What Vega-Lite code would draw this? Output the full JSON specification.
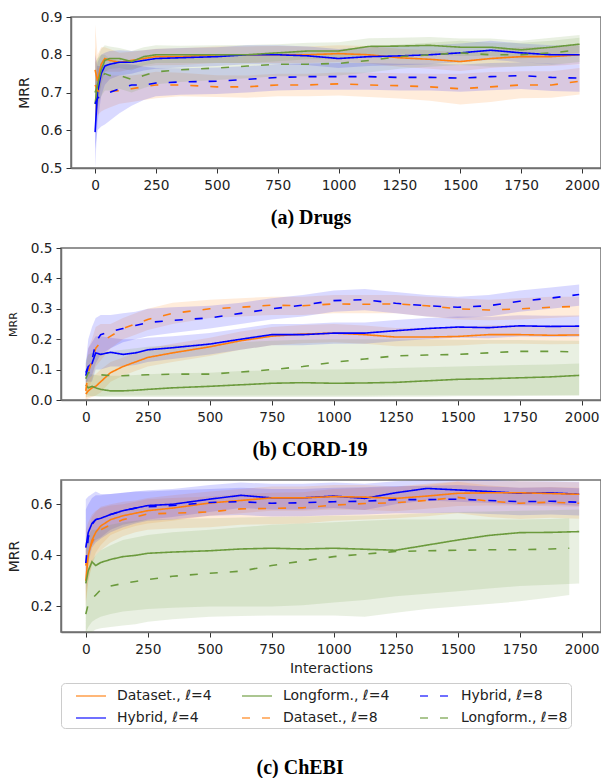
{
  "$schema": "https://vega.github.io/schema/vega-lite/v6.json",
  "background": "white",
  "padding": {"left": 6, "top": 9, "right": 0, "bottom": 0},
  "spacing": 11,
  "title": {"text": "(c) ChEBI", "orient": "bottom", "offset": 29, "dx": -4},
  "config": {
    "font": "DejaVu Sans",
    "view": {"stroke": "#707070", "strokeWidth": 1.5},
    "axis": {"grid": false, "domainColor": "#707070", "domainWidth": 1.5, "tickColor": "#333", "tickSize": 5, "tickWidth": 1, "labelFont": "DejaVu Sans", "labelFontSize": 13.7, "labelColor": "#222", "titleFont": "DejaVu Sans", "titleFontSize": 14, "titleFontWeight": "normal", "titleColor": "#222"},
    "axisY": {"labelPadding": 4, "titlePadding": 9},
    "axisX": {"labelPadding": 5, "titlePadding": 6, "format": "d"},
    "title": {"font": "Liberation Serif", "fontSize": 20, "fontWeight": "bold", "color": "#000", "anchor": "middle"},
    "legend": {"labelFont": "DejaVu Sans", "labelFontSize": 14, "labelColor": "#222", "symbolType": "M-1,0H2.333", "symbolSize": 324, "symbolStrokeWidth": 1.6, "symbolOpacity": 0.75, "symbolOffset": 11, "strokeColor": "#cccccc", "cornerRadius": 4, "padding": 3, "rowPadding": 5, "columnPadding": 18, "labelOffset": 22}
  },
  "resolve": {
    "scale": {"color": "shared", "fill": "shared", "strokeDash": "shared"},
    "legend": {"color": "shared", "strokeDash": "shared"}
  },
  "datasets": {
    "a": [
      {"s":"D4","x":0,"m":0.76,"l":0.64,"h":0.88},{"s":"D4","x":10,"m":0.73,"l":0.66,"h":0.80},{"s":"D4","x":25,"m":0.775,"l":0.73,"h":0.82},{"s":"D4","x":40,"m":0.79,"l":0.755,"h":0.82},{"s":"D4","x":60,"m":0.785,"l":0.755,"h":0.815},{"s":"D4","x":100,"m":0.78,"l":0.755,"h":0.805},{"s":"D4","x":150,"m":0.785,"l":0.762,"h":0.808},{"s":"D4","x":200,"m":0.79,"l":0.768,"h":0.812},{"s":"D4","x":250,"m":0.795,"l":0.772,"h":0.816},{"s":"D4","x":350,"m":0.795,"l":0.773,"h":0.817},{"s":"D4","x":500,"m":0.80,"l":0.778,"h":0.822},{"s":"D4","x":625,"m":0.80,"l":0.778,"h":0.822},{"s":"D4","x":750,"m":0.80,"l":0.778,"h":0.823},{"s":"D4","x":875,"m":0.80,"l":0.778,"h":0.822},{"s":"D4","x":1000,"m":0.803,"l":0.781,"h":0.825},{"s":"D4","x":1125,"m":0.80,"l":0.777,"h":0.823},{"s":"D4","x":1250,"m":0.792,"l":0.768,"h":0.816},{"s":"D4","x":1375,"m":0.788,"l":0.763,"h":0.812},{"s":"D4","x":1500,"m":0.782,"l":0.757,"h":0.806},{"s":"D4","x":1625,"m":0.79,"l":0.765,"h":0.814},{"s":"D4","x":1750,"m":0.795,"l":0.77,"h":0.82},{"s":"D4","x":1875,"m":0.795,"l":0.77,"h":0.82},{"s":"D4","x":1990,"m":0.80,"l":0.775,"h":0.825},
      {"s":"H4","x":0,"m":0.595,"l":0.50,"h":0.69},{"s":"H4","x":10,"m":0.70,"l":0.62,"h":0.78},{"s":"H4","x":25,"m":0.75,"l":0.69,"h":0.80},{"s":"H4","x":40,"m":0.77,"l":0.72,"h":0.805},{"s":"H4","x":60,"m":0.775,"l":0.735,"h":0.81},{"s":"H4","x":100,"m":0.78,"l":0.745,"h":0.812},{"s":"H4","x":150,"m":0.78,"l":0.75,"h":0.81},{"s":"H4","x":200,"m":0.785,"l":0.758,"h":0.812},{"s":"H4","x":250,"m":0.79,"l":0.763,"h":0.815},{"s":"H4","x":350,"m":0.792,"l":0.766,"h":0.818},{"s":"H4","x":500,"m":0.795,"l":0.77,"h":0.82},{"s":"H4","x":625,"m":0.80,"l":0.775,"h":0.825},{"s":"H4","x":750,"m":0.80,"l":0.775,"h":0.825},{"s":"H4","x":875,"m":0.797,"l":0.772,"h":0.822},{"s":"H4","x":1000,"m":0.79,"l":0.765,"h":0.815},{"s":"H4","x":1125,"m":0.795,"l":0.77,"h":0.82},{"s":"H4","x":1250,"m":0.797,"l":0.772,"h":0.822},{"s":"H4","x":1375,"m":0.80,"l":0.775,"h":0.825},{"s":"H4","x":1500,"m":0.805,"l":0.78,"h":0.83},{"s":"H4","x":1625,"m":0.812,"l":0.787,"h":0.837},{"s":"H4","x":1750,"m":0.805,"l":0.78,"h":0.83},{"s":"H4","x":1875,"m":0.80,"l":0.775,"h":0.825},{"s":"H4","x":1990,"m":0.80,"l":0.775,"h":0.825},
      {"s":"L4","x":0,"m":0.67,"l":0.60,"h":0.74},{"s":"L4","x":10,"m":0.72,"l":0.66,"h":0.79},{"s":"L4","x":25,"m":0.76,"l":0.72,"h":0.815},{"s":"L4","x":40,"m":0.785,"l":0.755,"h":0.825},{"s":"L4","x":60,"m":0.79,"l":0.762,"h":0.822},{"s":"L4","x":100,"m":0.79,"l":0.765,"h":0.818},{"s":"L4","x":150,"m":0.782,"l":0.758,"h":0.81},{"s":"L4","x":200,"m":0.795,"l":0.772,"h":0.82},{"s":"L4","x":250,"m":0.80,"l":0.778,"h":0.825},{"s":"L4","x":350,"m":0.80,"l":0.778,"h":0.824},{"s":"L4","x":500,"m":0.80,"l":0.778,"h":0.825},{"s":"L4","x":625,"m":0.80,"l":0.778,"h":0.826},{"s":"L4","x":750,"m":0.805,"l":0.783,"h":0.828},{"s":"L4","x":875,"m":0.81,"l":0.788,"h":0.832},{"s":"L4","x":1000,"m":0.81,"l":0.788,"h":0.833},{"s":"L4","x":1125,"m":0.822,"l":0.80,"h":0.844},{"s":"L4","x":1250,"m":0.823,"l":0.80,"h":0.845},{"s":"L4","x":1375,"m":0.825,"l":0.802,"h":0.847},{"s":"L4","x":1500,"m":0.82,"l":0.797,"h":0.843},{"s":"L4","x":1625,"m":0.82,"l":0.797,"h":0.843},{"s":"L4","x":1750,"m":0.813,"l":0.79,"h":0.837},{"s":"L4","x":1875,"m":0.82,"l":0.797,"h":0.845},{"s":"L4","x":1990,"m":0.828,"l":0.805,"h":0.852},
      {"s":"D8","x":0,"m":0.72,"l":0.62,"h":0.82},{"s":"D8","x":10,"m":0.705,"l":0.64,"h":0.77},{"s":"D8","x":25,"m":0.70,"l":0.65,"h":0.75},{"s":"D8","x":40,"m":0.70,"l":0.655,"h":0.745},{"s":"D8","x":60,"m":0.703,"l":0.66,"h":0.745},{"s":"D8","x":100,"m":0.705,"l":0.67,"h":0.745},{"s":"D8","x":150,"m":0.71,"l":0.675,"h":0.745},{"s":"D8","x":200,"m":0.715,"l":0.68,"h":0.75},{"s":"D8","x":250,"m":0.72,"l":0.685,"h":0.755},{"s":"D8","x":350,"m":0.72,"l":0.69,"h":0.752},{"s":"D8","x":500,"m":0.715,"l":0.688,"h":0.746},{"s":"D8","x":625,"m":0.715,"l":0.686,"h":0.745},{"s":"D8","x":750,"m":0.72,"l":0.69,"h":0.75},{"s":"D8","x":875,"m":0.72,"l":0.69,"h":0.75},{"s":"D8","x":1000,"m":0.723,"l":0.692,"h":0.753},{"s":"D8","x":1125,"m":0.72,"l":0.688,"h":0.752},{"s":"D8","x":1250,"m":0.718,"l":0.684,"h":0.751},{"s":"D8","x":1375,"m":0.715,"l":0.678,"h":0.75},{"s":"D8","x":1500,"m":0.71,"l":0.668,"h":0.75},{"s":"D8","x":1625,"m":0.715,"l":0.675,"h":0.754},{"s":"D8","x":1750,"m":0.72,"l":0.685,"h":0.756},{"s":"D8","x":1875,"m":0.72,"l":0.686,"h":0.756},{"s":"D8","x":1990,"m":0.73,"l":0.695,"h":0.765},
      {"s":"H8","x":0,"m":0.67,"l":0.55,"h":0.80},{"s":"H8","x":10,"m":0.685,"l":0.60,"h":0.77},{"s":"H8","x":25,"m":0.69,"l":0.61,"h":0.77},{"s":"H8","x":40,"m":0.695,"l":0.615,"h":0.775},{"s":"H8","x":60,"m":0.70,"l":0.625,"h":0.775},{"s":"H8","x":100,"m":0.71,"l":0.645,"h":0.775},{"s":"H8","x":150,"m":0.72,"l":0.665,"h":0.775},{"s":"H8","x":200,"m":0.72,"l":0.68,"h":0.768},{"s":"H8","x":250,"m":0.725,"l":0.69,"h":0.765},{"s":"H8","x":350,"m":0.728,"l":0.694,"h":0.764},{"s":"H8","x":500,"m":0.73,"l":0.696,"h":0.766},{"s":"H8","x":625,"m":0.735,"l":0.70,"h":0.77},{"s":"H8","x":750,"m":0.74,"l":0.705,"h":0.775},{"s":"H8","x":875,"m":0.742,"l":0.707,"h":0.777},{"s":"H8","x":1000,"m":0.742,"l":0.707,"h":0.778},{"s":"H8","x":1125,"m":0.742,"l":0.707,"h":0.778},{"s":"H8","x":1250,"m":0.74,"l":0.705,"h":0.776},{"s":"H8","x":1375,"m":0.74,"l":0.705,"h":0.776},{"s":"H8","x":1500,"m":0.738,"l":0.702,"h":0.774},{"s":"H8","x":1625,"m":0.742,"l":0.706,"h":0.778},{"s":"H8","x":1750,"m":0.745,"l":0.709,"h":0.78},{"s":"H8","x":1875,"m":0.74,"l":0.704,"h":0.776},{"s":"H8","x":1990,"m":0.738,"l":0.702,"h":0.774},
      {"s":"L8","x":0,"m":0.70,"l":0.62,"h":0.78},{"s":"L8","x":10,"m":0.72,"l":0.66,"h":0.79},{"s":"L8","x":25,"m":0.74,"l":0.69,"h":0.80},{"s":"L8","x":40,"m":0.75,"l":0.705,"h":0.80},{"s":"L8","x":60,"m":0.745,"l":0.705,"h":0.79},{"s":"L8","x":100,"m":0.745,"l":0.71,"h":0.785},{"s":"L8","x":150,"m":0.735,"l":0.70,"h":0.772},{"s":"L8","x":200,"m":0.745,"l":0.712,"h":0.78},{"s":"L8","x":250,"m":0.755,"l":0.722,"h":0.788},{"s":"L8","x":350,"m":0.76,"l":0.728,"h":0.792},{"s":"L8","x":500,"m":0.765,"l":0.733,"h":0.797},{"s":"L8","x":625,"m":0.77,"l":0.738,"h":0.802},{"s":"L8","x":750,"m":0.775,"l":0.743,"h":0.807},{"s":"L8","x":875,"m":0.775,"l":0.743,"h":0.807},{"s":"L8","x":1000,"m":0.777,"l":0.745,"h":0.81},{"s":"L8","x":1125,"m":0.785,"l":0.753,"h":0.817},{"s":"L8","x":1250,"m":0.795,"l":0.763,"h":0.827},{"s":"L8","x":1375,"m":0.80,"l":0.768,"h":0.832},{"s":"L8","x":1500,"m":0.805,"l":0.773,"h":0.837},{"s":"L8","x":1625,"m":0.80,"l":0.768,"h":0.832},{"s":"L8","x":1750,"m":0.80,"l":0.768,"h":0.832},{"s":"L8","x":1875,"m":0.805,"l":0.773,"h":0.837},{"s":"L8","x":1990,"m":0.813,"l":0.781,"h":0.845}
    ],
    "b": [
      {"s":"D4","x":0,"m":0.02,"l":0.0,"h":0.06},{"s":"D4","x":10,"m":0.03,"l":0.005,"h":0.07},{"s":"D4","x":25,"m":0.04,"l":0.01,"h":0.08},{"s":"D4","x":40,"m":0.045,"l":0.015,"h":0.085},{"s":"D4","x":60,"m":0.06,"l":0.025,"h":0.10},{"s":"D4","x":100,"m":0.09,"l":0.06,"h":0.125},{"s":"D4","x":150,"m":0.11,"l":0.08,"h":0.14},{"s":"D4","x":200,"m":0.125,"l":0.095,"h":0.155},{"s":"D4","x":250,"m":0.14,"l":0.11,"h":0.17},{"s":"D4","x":350,"m":0.155,"l":0.125,"h":0.185},{"s":"D4","x":500,"m":0.175,"l":0.145,"h":0.205},{"s":"D4","x":625,"m":0.195,"l":0.165,"h":0.225},{"s":"D4","x":750,"m":0.21,"l":0.18,"h":0.24},{"s":"D4","x":875,"m":0.217,"l":0.187,"h":0.247},{"s":"D4","x":1000,"m":0.22,"l":0.19,"h":0.25},{"s":"D4","x":1125,"m":0.215,"l":0.185,"h":0.245},{"s":"D4","x":1250,"m":0.207,"l":0.177,"h":0.237},{"s":"D4","x":1375,"m":0.207,"l":0.177,"h":0.238},{"s":"D4","x":1500,"m":0.209,"l":0.179,"h":0.24},{"s":"D4","x":1625,"m":0.215,"l":0.185,"h":0.246},{"s":"D4","x":1750,"m":0.215,"l":0.185,"h":0.246},{"s":"D4","x":1875,"m":0.213,"l":0.183,"h":0.244},{"s":"D4","x":1990,"m":0.214,"l":0.184,"h":0.245},
      {"s":"H4","x":0,"m":0.09,"l":0.06,"h":0.12},{"s":"H4","x":10,"m":0.11,"l":0.06,"h":0.17},{"s":"H4","x":25,"m":0.12,"l":0.06,"h":0.19},{"s":"H4","x":40,"m":0.155,"l":0.10,"h":0.21},{"s":"H4","x":60,"m":0.15,"l":0.10,"h":0.21},{"s":"H4","x":100,"m":0.157,"l":0.11,"h":0.205},{"s":"H4","x":150,"m":0.15,"l":0.11,"h":0.20},{"s":"H4","x":200,"m":0.155,"l":0.115,"h":0.20},{"s":"H4","x":250,"m":0.165,"l":0.125,"h":0.205},{"s":"H4","x":350,"m":0.172,"l":0.135,"h":0.21},{"s":"H4","x":500,"m":0.184,"l":0.15,"h":0.22},{"s":"H4","x":625,"m":0.20,"l":0.165,"h":0.235},{"s":"H4","x":750,"m":0.215,"l":0.18,"h":0.25},{"s":"H4","x":875,"m":0.215,"l":0.18,"h":0.25},{"s":"H4","x":1000,"m":0.22,"l":0.185,"h":0.255},{"s":"H4","x":1125,"m":0.22,"l":0.185,"h":0.255},{"s":"H4","x":1250,"m":0.228,"l":0.193,"h":0.263},{"s":"H4","x":1375,"m":0.235,"l":0.20,"h":0.27},{"s":"H4","x":1500,"m":0.24,"l":0.205,"h":0.275},{"s":"H4","x":1625,"m":0.238,"l":0.203,"h":0.273},{"s":"H4","x":1750,"m":0.244,"l":0.209,"h":0.279},{"s":"H4","x":1875,"m":0.242,"l":0.207,"h":0.277},{"s":"H4","x":1990,"m":0.243,"l":0.208,"h":0.278},
      {"s":"L4","x":0,"m":0.05,"l":0.02,"h":0.09},{"s":"L4","x":10,"m":0.04,"l":0.015,"h":0.085},{"s":"L4","x":25,"m":0.045,"l":0.012,"h":0.085},{"s":"L4","x":40,"m":0.04,"l":0.012,"h":0.082},{"s":"L4","x":60,"m":0.035,"l":0.01,"h":0.08},{"s":"L4","x":100,"m":0.03,"l":0.01,"h":0.08},{"s":"L4","x":150,"m":0.03,"l":0.01,"h":0.08},{"s":"L4","x":200,"m":0.032,"l":0.01,"h":0.082},{"s":"L4","x":250,"m":0.035,"l":0.01,"h":0.085},{"s":"L4","x":350,"m":0.04,"l":0.01,"h":0.088},{"s":"L4","x":500,"m":0.045,"l":0.01,"h":0.09},{"s":"L4","x":625,"m":0.05,"l":0.01,"h":0.095},{"s":"L4","x":750,"m":0.055,"l":0.01,"h":0.098},{"s":"L4","x":875,"m":0.057,"l":0.01,"h":0.10},{"s":"L4","x":1000,"m":0.055,"l":0.01,"h":0.10},{"s":"L4","x":1125,"m":0.056,"l":0.01,"h":0.102},{"s":"L4","x":1250,"m":0.058,"l":0.011,"h":0.105},{"s":"L4","x":1375,"m":0.063,"l":0.011,"h":0.108},{"s":"L4","x":1500,"m":0.068,"l":0.012,"h":0.11},{"s":"L4","x":1625,"m":0.07,"l":0.012,"h":0.113},{"s":"L4","x":1750,"m":0.073,"l":0.013,"h":0.115},{"s":"L4","x":1875,"m":0.076,"l":0.014,"h":0.117},{"s":"L4","x":1990,"m":0.081,"l":0.015,"h":0.12},
      {"s":"D8","x":0,"m":0.03,"l":0.0,"h":0.10},{"s":"D8","x":10,"m":0.09,"l":0.03,"h":0.17},{"s":"D8","x":25,"m":0.13,"l":0.07,"h":0.20},{"s":"D8","x":40,"m":0.17,"l":0.11,"h":0.24},{"s":"D8","x":60,"m":0.19,"l":0.13,"h":0.25},{"s":"D8","x":100,"m":0.21,"l":0.17,"h":0.25},{"s":"D8","x":150,"m":0.235,"l":0.20,"h":0.27},{"s":"D8","x":200,"m":0.25,"l":0.215,"h":0.285},{"s":"D8","x":250,"m":0.265,"l":0.23,"h":0.30},{"s":"D8","x":350,"m":0.285,"l":0.25,"h":0.32},{"s":"D8","x":500,"m":0.30,"l":0.27,"h":0.33},{"s":"D8","x":625,"m":0.305,"l":0.275,"h":0.335},{"s":"D8","x":750,"m":0.312,"l":0.28,"h":0.34},{"s":"D8","x":875,"m":0.31,"l":0.28,"h":0.34},{"s":"D8","x":1000,"m":0.316,"l":0.285,"h":0.345},{"s":"D8","x":1125,"m":0.315,"l":0.285,"h":0.345},{"s":"D8","x":1250,"m":0.316,"l":0.285,"h":0.345},{"s":"D8","x":1375,"m":0.31,"l":0.275,"h":0.34},{"s":"D8","x":1500,"m":0.30,"l":0.265,"h":0.335},{"s":"D8","x":1625,"m":0.296,"l":0.262,"h":0.33},{"s":"D8","x":1750,"m":0.30,"l":0.265,"h":0.335},{"s":"D8","x":1875,"m":0.305,"l":0.27,"h":0.34},{"s":"D8","x":1990,"m":0.308,"l":0.275,"h":0.34},
      {"s":"H8","x":0,"m":0.08,"l":0.05,"h":0.12},{"s":"H8","x":10,"m":0.11,"l":0.07,"h":0.20},{"s":"H8","x":25,"m":0.13,"l":0.08,"h":0.24},{"s":"H8","x":40,"m":0.19,"l":0.12,"h":0.27},{"s":"H8","x":60,"m":0.215,"l":0.15,"h":0.28},{"s":"H8","x":100,"m":0.225,"l":0.17,"h":0.28},{"s":"H8","x":150,"m":0.235,"l":0.19,"h":0.285},{"s":"H8","x":200,"m":0.245,"l":0.20,"h":0.29},{"s":"H8","x":250,"m":0.255,"l":0.21,"h":0.30},{"s":"H8","x":350,"m":0.262,"l":0.22,"h":0.305},{"s":"H8","x":500,"m":0.27,"l":0.235,"h":0.31},{"s":"H8","x":625,"m":0.285,"l":0.25,"h":0.32},{"s":"H8","x":750,"m":0.30,"l":0.265,"h":0.335},{"s":"H8","x":875,"m":0.312,"l":0.275,"h":0.345},{"s":"H8","x":1000,"m":0.327,"l":0.29,"h":0.36},{"s":"H8","x":1125,"m":0.33,"l":0.295,"h":0.365},{"s":"H8","x":1250,"m":0.318,"l":0.285,"h":0.355},{"s":"H8","x":1375,"m":0.31,"l":0.275,"h":0.345},{"s":"H8","x":1500,"m":0.305,"l":0.27,"h":0.34},{"s":"H8","x":1625,"m":0.31,"l":0.275,"h":0.345},{"s":"H8","x":1750,"m":0.325,"l":0.29,"h":0.36},{"s":"H8","x":1875,"m":0.335,"l":0.30,"h":0.37},{"s":"H8","x":1990,"m":0.347,"l":0.31,"h":0.38},
      {"s":"L8","x":0,"m":0.07,"l":0.01,"h":0.13},{"s":"L8","x":10,"m":0.09,"l":0.01,"h":0.15},{"s":"L8","x":25,"m":0.09,"l":0.012,"h":0.155},{"s":"L8","x":40,"m":0.085,"l":0.012,"h":0.155},{"s":"L8","x":60,"m":0.083,"l":0.013,"h":0.155},{"s":"L8","x":100,"m":0.08,"l":0.015,"h":0.16},{"s":"L8","x":150,"m":0.08,"l":0.015,"h":0.165},{"s":"L8","x":200,"m":0.082,"l":0.015,"h":0.17},{"s":"L8","x":250,"m":0.083,"l":0.015,"h":0.175},{"s":"L8","x":350,"m":0.085,"l":0.015,"h":0.18},{"s":"L8","x":500,"m":0.085,"l":0.015,"h":0.185},{"s":"L8","x":625,"m":0.092,"l":0.015,"h":0.19},{"s":"L8","x":750,"m":0.10,"l":0.015,"h":0.195},{"s":"L8","x":875,"m":0.11,"l":0.015,"h":0.198},{"s":"L8","x":1000,"m":0.124,"l":0.015,"h":0.20},{"s":"L8","x":1125,"m":0.135,"l":0.015,"h":0.20},{"s":"L8","x":1250,"m":0.145,"l":0.016,"h":0.20},{"s":"L8","x":1375,"m":0.148,"l":0.016,"h":0.20},{"s":"L8","x":1500,"m":0.15,"l":0.016,"h":0.198},{"s":"L8","x":1625,"m":0.155,"l":0.016,"h":0.197},{"s":"L8","x":1750,"m":0.16,"l":0.016,"h":0.197},{"s":"L8","x":1875,"m":0.16,"l":0.016,"h":0.196},{"s":"L8","x":1990,"m":0.158,"l":0.016,"h":0.195}
    ],
    "c": [
      {"s":"H4","x":0,"m":0.43,"l":0.33,"h":0.62},{"s":"H4","x":10,"m":0.49,"l":0.40,"h":0.63},{"s":"H4","x":25,"m":0.525,"l":0.44,"h":0.64},{"s":"H4","x":40,"m":0.54,"l":0.46,"h":0.65},{"s":"H4","x":60,"m":0.545,"l":0.47,"h":0.64},{"s":"H4","x":100,"m":0.56,"l":0.50,"h":0.64},{"s":"H4","x":150,"m":0.575,"l":0.52,"h":0.645},{"s":"H4","x":200,"m":0.585,"l":0.53,"h":0.65},{"s":"H4","x":250,"m":0.595,"l":0.54,"h":0.655},{"s":"H4","x":350,"m":0.60,"l":0.55,"h":0.66},{"s":"H4","x":500,"m":0.62,"l":0.57,"h":0.675},{"s":"H4","x":625,"m":0.635,"l":0.585,"h":0.685},{"s":"H4","x":750,"m":0.625,"l":0.58,"h":0.68},{"s":"H4","x":875,"m":0.625,"l":0.58,"h":0.68},{"s":"H4","x":1000,"m":0.632,"l":0.585,"h":0.685},{"s":"H4","x":1125,"m":0.623,"l":0.578,"h":0.68},{"s":"H4","x":1250,"m":0.645,"l":0.60,"h":0.69},{"s":"H4","x":1375,"m":0.662,"l":0.615,"h":0.695},{"s":"H4","x":1500,"m":0.656,"l":0.61,"h":0.695},{"s":"H4","x":1625,"m":0.65,"l":0.605,"h":0.695},{"s":"H4","x":1750,"m":0.643,"l":0.598,"h":0.69},{"s":"H4","x":1875,"m":0.645,"l":0.60,"h":0.69},{"s":"H4","x":1990,"m":0.639,"l":0.594,"h":0.688},
      {"s":"D4","x":0,"m":0.30,"l":0.20,"h":0.42},{"s":"D4","x":10,"m":0.40,"l":0.30,"h":0.50},{"s":"D4","x":25,"m":0.46,"l":0.37,"h":0.55},{"s":"D4","x":40,"m":0.49,"l":0.41,"h":0.57},{"s":"D4","x":60,"m":0.515,"l":0.44,"h":0.59},{"s":"D4","x":100,"m":0.54,"l":0.48,"h":0.60},{"s":"D4","x":150,"m":0.555,"l":0.50,"h":0.61},{"s":"D4","x":200,"m":0.565,"l":0.515,"h":0.615},{"s":"D4","x":250,"m":0.575,"l":0.525,"h":0.625},{"s":"D4","x":350,"m":0.585,"l":0.535,"h":0.635},{"s":"D4","x":500,"m":0.605,"l":0.555,"h":0.65},{"s":"D4","x":625,"m":0.615,"l":0.565,"h":0.66},{"s":"D4","x":750,"m":0.625,"l":0.575,"h":0.67},{"s":"D4","x":875,"m":0.625,"l":0.575,"h":0.67},{"s":"D4","x":1000,"m":0.63,"l":0.58,"h":0.675},{"s":"D4","x":1125,"m":0.628,"l":0.578,"h":0.675},{"s":"D4","x":1250,"m":0.623,"l":0.573,"h":0.67},{"s":"D4","x":1375,"m":0.632,"l":0.582,"h":0.68},{"s":"D4","x":1500,"m":0.643,"l":0.593,"h":0.69},{"s":"D4","x":1625,"m":0.645,"l":0.595,"h":0.69},{"s":"D4","x":1750,"m":0.645,"l":0.595,"h":0.69},{"s":"D4","x":1875,"m":0.642,"l":0.592,"h":0.688},{"s":"D4","x":1990,"m":0.639,"l":0.59,"h":0.686},
      {"s":"D8","x":0,"m":0.36,"l":0.22,"h":0.50},{"s":"D8","x":10,"m":0.41,"l":0.30,"h":0.53},{"s":"D8","x":25,"m":0.45,"l":0.36,"h":0.56},{"s":"D8","x":40,"m":0.48,"l":0.40,"h":0.575},{"s":"D8","x":60,"m":0.50,"l":0.42,"h":0.585},{"s":"D8","x":100,"m":0.52,"l":0.45,"h":0.595},{"s":"D8","x":150,"m":0.54,"l":0.475,"h":0.60},{"s":"D8","x":200,"m":0.55,"l":0.49,"h":0.61},{"s":"D8","x":250,"m":0.562,"l":0.50,"h":0.62},{"s":"D8","x":350,"m":0.565,"l":0.505,"h":0.625},{"s":"D8","x":500,"m":0.57,"l":0.51,"h":0.63},{"s":"D8","x":625,"m":0.582,"l":0.52,"h":0.64},{"s":"D8","x":750,"m":0.584,"l":0.522,"h":0.645},{"s":"D8","x":875,"m":0.586,"l":0.525,"h":0.647},{"s":"D8","x":1000,"m":0.597,"l":0.535,"h":0.66},{"s":"D8","x":1125,"m":0.603,"l":0.54,"h":0.665},{"s":"D8","x":1250,"m":0.606,"l":0.545,"h":0.668},{"s":"D8","x":1375,"m":0.615,"l":0.553,"h":0.675},{"s":"D8","x":1500,"m":0.627,"l":0.565,"h":0.688},{"s":"D8","x":1625,"m":0.612,"l":0.55,"h":0.673},{"s":"D8","x":1750,"m":0.604,"l":0.542,"h":0.665},{"s":"D8","x":1875,"m":0.608,"l":0.547,"h":0.668},{"s":"D8","x":1990,"m":0.604,"l":0.543,"h":0.665},
      {"s":"H8","x":0,"m":0.37,"l":0.26,"h":0.58},{"s":"H8","x":10,"m":0.47,"l":0.37,"h":0.60},{"s":"H8","x":25,"m":0.52,"l":0.43,"h":0.625},{"s":"H8","x":40,"m":0.54,"l":0.45,"h":0.635},{"s":"H8","x":60,"m":0.545,"l":0.465,"h":0.635},{"s":"H8","x":100,"m":0.56,"l":0.49,"h":0.64},{"s":"H8","x":150,"m":0.575,"l":0.51,"h":0.645},{"s":"H8","x":200,"m":0.585,"l":0.525,"h":0.65},{"s":"H8","x":250,"m":0.59,"l":0.535,"h":0.65},{"s":"H8","x":350,"m":0.595,"l":0.54,"h":0.655},{"s":"H8","x":500,"m":0.607,"l":0.555,"h":0.66},{"s":"H8","x":625,"m":0.61,"l":0.558,"h":0.665},{"s":"H8","x":750,"m":0.604,"l":0.552,"h":0.66},{"s":"H8","x":875,"m":0.606,"l":0.553,"h":0.66},{"s":"H8","x":1000,"m":0.61,"l":0.557,"h":0.665},{"s":"H8","x":1125,"m":0.612,"l":0.56,"h":0.667},{"s":"H8","x":1250,"m":0.618,"l":0.565,"h":0.672},{"s":"H8","x":1375,"m":0.618,"l":0.565,"h":0.672},{"s":"H8","x":1500,"m":0.62,"l":0.567,"h":0.675},{"s":"H8","x":1625,"m":0.615,"l":0.562,"h":0.67},{"s":"H8","x":1750,"m":0.61,"l":0.557,"h":0.665},{"s":"H8","x":1875,"m":0.612,"l":0.56,"h":0.667},{"s":"H8","x":1990,"m":0.608,"l":0.556,"h":0.663},
      {"s":"L4","x":0,"m":0.29,"l":0.10,"h":0.45},{"s":"L4","x":10,"m":0.34,"l":0.12,"h":0.48},{"s":"L4","x":25,"m":0.375,"l":0.14,"h":0.50},{"s":"L4","x":40,"m":0.36,"l":0.15,"h":0.50},{"s":"L4","x":60,"m":0.372,"l":0.16,"h":0.51},{"s":"L4","x":100,"m":0.384,"l":0.17,"h":0.52},{"s":"L4","x":150,"m":0.395,"l":0.18,"h":0.53},{"s":"L4","x":200,"m":0.40,"l":0.185,"h":0.535},{"s":"L4","x":250,"m":0.408,"l":0.19,"h":0.54},{"s":"L4","x":350,"m":0.413,"l":0.195,"h":0.542},{"s":"L4","x":500,"m":0.418,"l":0.20,"h":0.545},{"s":"L4","x":625,"m":0.425,"l":0.20,"h":0.548},{"s":"L4","x":750,"m":0.428,"l":0.20,"h":0.55},{"s":"L4","x":875,"m":0.425,"l":0.205,"h":0.552},{"s":"L4","x":1000,"m":0.428,"l":0.215,"h":0.555},{"s":"L4","x":1125,"m":0.424,"l":0.225,"h":0.556},{"s":"L4","x":1250,"m":0.42,"l":0.24,"h":0.56},{"s":"L4","x":1375,"m":0.44,"l":0.25,"h":0.565},{"s":"L4","x":1500,"m":0.46,"l":0.26,"h":0.57},{"s":"L4","x":1625,"m":0.478,"l":0.27,"h":0.572},{"s":"L4","x":1750,"m":0.489,"l":0.28,"h":0.575},{"s":"L4","x":1875,"m":0.49,"l":0.285,"h":0.577},{"s":"L4","x":1990,"m":0.493,"l":0.29,"h":0.58},
      {"s":"L8","x":0,"m":0.17,"l":0.10,"h":0.30},{"s":"L8","x":10,"m":0.21,"l":0.10,"h":0.35},{"s":"L8","x":25,"m":0.23,"l":0.10,"h":0.38},{"s":"L8","x":40,"m":0.245,"l":0.11,"h":0.40},{"s":"L8","x":60,"m":0.265,"l":0.115,"h":0.42},{"s":"L8","x":100,"m":0.28,"l":0.12,"h":0.44},{"s":"L8","x":150,"m":0.29,"l":0.125,"h":0.46},{"s":"L8","x":200,"m":0.298,"l":0.13,"h":0.47},{"s":"L8","x":250,"m":0.305,"l":0.14,"h":0.48},{"s":"L8","x":350,"m":0.318,"l":0.15,"h":0.49},{"s":"L8","x":500,"m":0.33,"l":0.16,"h":0.50},{"s":"L8","x":625,"m":0.338,"l":0.163,"h":0.51},{"s":"L8","x":750,"m":0.36,"l":0.165,"h":0.52},{"s":"L8","x":875,"m":0.378,"l":0.165,"h":0.525},{"s":"L8","x":1000,"m":0.395,"l":0.165,"h":0.53},{"s":"L8","x":1125,"m":0.405,"l":0.16,"h":0.535},{"s":"L8","x":1250,"m":0.415,"l":0.175,"h":0.54},{"s":"L8","x":1375,"m":0.418,"l":0.19,"h":0.54},{"s":"L8","x":1500,"m":0.42,"l":0.20,"h":0.54},{"s":"L8","x":1625,"m":0.422,"l":0.21,"h":0.54},{"s":"L8","x":1750,"m":0.422,"l":0.22,"h":0.54},{"s":"L8","x":1875,"m":0.425,"l":0.235,"h":0.542},{"s":"L8","x":1950,"m":0.428,"l":0.245,"h":0.545}
    ]
  },
  "vconcat": [
    {
      "spacing": 9,
      "bounds": "flush",
      "resolve": {"scale": {"color": "shared", "fill": "shared", "strokeDash": "shared"}, "legend": {"color": "shared", "strokeDash": "shared"}},
      "hconcat": [
        {
          "width": 1, "height": 1,
          "view": {"stroke": null},
          "data": {"values": [{"k": 1}]},
          "mark": {"type": "point", "opacity": 0},
          "encoding": {}
        },
        {
          "width": 530, "height": 151,
          "data": {"name": "a"},
          "title": {"text": "(a) Drugs", "orient": "bottom", "dx": -25, "offset": 16},
          "layer": [
            {"mark": {"type": "area", "fillOpacity": 0.15, "clip": true},
             "encoding": {
               "x": {"field": "x", "type": "quantitative", "scale": {"domain": [-99, 2078], "nice": false, "zero": false}, "axis": {"values": [0,250,500,750,1000,1250,1500,1750,2000], "title": null}},
               "y": {"field": "l", "type": "quantitative", "scale": {"domain": [0.5, 0.9], "nice": false, "zero": false}, "axis": {"values": [0.5,0.6,0.7,0.8,0.9], "format": ".1f", "title": "MRR"}},
               "y2": {"field": "h"},
               "fill": {"field": "s", "type": "nominal", "scale": {"domain": ["L8","D8","H4","H8","L4","D4"], "range": ["#6b9a3c","#ff7f0e","#0000ff","#0000ff","#6b9a3c","#ff7f0e"]}, "legend": null},
               "detail": {"field": "s"}
             }},
            {"mark": {"type": "line", "strokeWidth": 1.6, "clip": true},
             "encoding": {
               "x": {"field": "x", "type": "quantitative"},
               "y": {"field": "m", "type": "quantitative", "axis": {"values": [0.5,0.6,0.7,0.8,0.9], "format": ".1f", "title": "MRR"}},
               "color": {"field": "s", "type": "nominal", "scale": {"domain": ["D4","L4","H8","H4","D8","L8"], "range": ["#ff7f0e","#6b9a3c","#0000ff","#0000ff","#ff7f0e","#6b9a3c"]},
                 "legend": {"title": null, "orient": "bottom", "direction": "horizontal", "columns": 3, "offset": 6,
                   "labelExpr": "datum.label == 'D4' ? 'Dataset., ℓ=4' : datum.label == 'L4' ? 'Longform., ℓ=4' : datum.label == 'H8' ? 'Hybrid, ℓ=8' : datum.label == 'H4' ? 'Hybrid, ℓ=4' : datum.label == 'D8' ? 'Dataset., ℓ=8' : 'Longform., ℓ=8'"}},
               "strokeDash": {"field": "s", "type": "nominal", "scale": {"domain": ["D4","L4","H8","H4","D8","L8"], "range": [[1,0],[1,0],[8,12],[1,0],[8,12],[8,12]]},
                 "legend": {"title": null, "orient": "bottom", "direction": "horizontal", "columns": 3, "offset": 6,
                   "labelExpr": "datum.label == 'D4' ? 'Dataset., ℓ=4' : datum.label == 'L4' ? 'Longform., ℓ=4' : datum.label == 'H8' ? 'Hybrid, ℓ=8' : datum.label == 'H4' ? 'Hybrid, ℓ=4' : datum.label == 'D8' ? 'Dataset., ℓ=8' : 'Longform., ℓ=8'"}}
             }}
          ]
        }
      ]
    },
    {
      "spacing": 18,
      "resolve": {"scale": {"color": "shared", "fill": "shared", "strokeDash": "shared"}, "legend": {"color": "shared", "strokeDash": "shared"}},
      "vconcat": [
        {
          "width": 540, "height": 152,
          "data": {"name": "b"},
          "title": {"text": "(b) CORD-19", "orient": "bottom", "dx": -21, "offset": 16},
          "layer": [
            {"mark": {"type": "area", "fillOpacity": 0.15, "clip": true},
             "encoding": {
               "x": {"field": "x", "type": "quantitative", "scale": {"domain": [-100, 2078], "nice": false, "zero": false}, "axis": {"values": [0,250,500,750,1000,1250,1500,1750,2000], "title": null}},
               "y": {"field": "l", "type": "quantitative", "scale": {"domain": [0, 0.5], "nice": false}, "axis": {"values": [0,0.1,0.2,0.3,0.4,0.5], "format": ".1f", "title": "MRR", "titleFontSize": 11, "titlePadding": 12}},
               "y2": {"field": "h"},
               "fill": {"field": "s", "type": "nominal", "legend": null},
               "detail": {"field": "s"}
             }},
            {"mark": {"type": "line", "strokeWidth": 1.6, "clip": true},
             "encoding": {
               "x": {"field": "x", "type": "quantitative"},
               "y": {"field": "m", "type": "quantitative", "axis": {"values": [0,0.1,0.2,0.3,0.4,0.5], "format": ".1f", "title": "MRR", "titleFontSize": 11, "titlePadding": 12}},
               "color": {"field": "s", "type": "nominal",
                 "legend": {"title": null, "orient": "bottom", "direction": "horizontal", "columns": 3, "offset": 6,
                   "labelExpr": "datum.label == 'D4' ? 'Dataset., ℓ=4' : datum.label == 'L4' ? 'Longform., ℓ=4' : datum.label == 'H8' ? 'Hybrid, ℓ=8' : datum.label == 'H4' ? 'Hybrid, ℓ=4' : datum.label == 'D8' ? 'Dataset., ℓ=8' : 'Longform., ℓ=8'"}},
               "strokeDash": {"field": "s", "type": "nominal",
                 "legend": {"title": null, "orient": "bottom", "direction": "horizontal", "columns": 3, "offset": 6,
                   "labelExpr": "datum.label == 'D4' ? 'Dataset., ℓ=4' : datum.label == 'L4' ? 'Longform., ℓ=4' : datum.label == 'H8' ? 'Hybrid, ℓ=8' : datum.label == 'H4' ? 'Hybrid, ℓ=4' : datum.label == 'D8' ? 'Dataset., ℓ=8' : 'Longform., ℓ=8'"}}
             }}
          ]
        },
        {
          "width": 540, "height": 152,
          "data": {"name": "c"},
          "layer": [
            {"mark": {"type": "area", "fillOpacity": 0.15, "clip": true},
             "encoding": {
               "x": {"field": "x", "type": "quantitative", "scale": {"domain": [-100, 2078], "nice": false, "zero": false}, "axis": {"values": [0,250,500,750,1000,1250,1500,1750,2000], "title": "Interactions"}},
               "y": {"field": "l", "type": "quantitative", "scale": {"domain": [0.1, 0.695], "nice": false, "zero": false}, "axis": {"values": [0.2,0.4,0.6], "format": ".1f", "title": "MRR"}},
               "y2": {"field": "h"},
               "fill": {"field": "s", "type": "nominal", "legend": null},
               "detail": {"field": "s"}
             }},
            {"mark": {"type": "line", "strokeWidth": 1.6, "clip": true},
             "encoding": {
               "x": {"field": "x", "type": "quantitative", "axis": {"values": [0,250,500,750,1000,1250,1500,1750,2000], "title": "Interactions"}},
               "y": {"field": "m", "type": "quantitative", "axis": {"values": [0.2,0.4,0.6], "format": ".1f", "title": "MRR"}},
               "color": {"field": "s", "type": "nominal",
                 "legend": {"title": null, "orient": "bottom", "direction": "horizontal", "columns": 3, "offset": 6,
                   "labelExpr": "datum.label == 'D4' ? 'Dataset., ℓ=4' : datum.label == 'L4' ? 'Longform., ℓ=4' : datum.label == 'H8' ? 'Hybrid, ℓ=8' : datum.label == 'H4' ? 'Hybrid, ℓ=4' : datum.label == 'D8' ? 'Dataset., ℓ=8' : 'Longform., ℓ=8'"}},
               "strokeDash": {"field": "s", "type": "nominal",
                 "legend": {"title": null, "orient": "bottom", "direction": "horizontal", "columns": 3, "offset": 6,
                   "labelExpr": "datum.label == 'D4' ? 'Dataset., ℓ=4' : datum.label == 'L4' ? 'Longform., ℓ=4' : datum.label == 'H8' ? 'Hybrid, ℓ=8' : datum.label == 'H4' ? 'Hybrid, ℓ=4' : datum.label == 'D8' ? 'Dataset., ℓ=8' : 'Longform., ℓ=8'"}}
             }}
          ]
        }
      ]
    }
  ]
}
